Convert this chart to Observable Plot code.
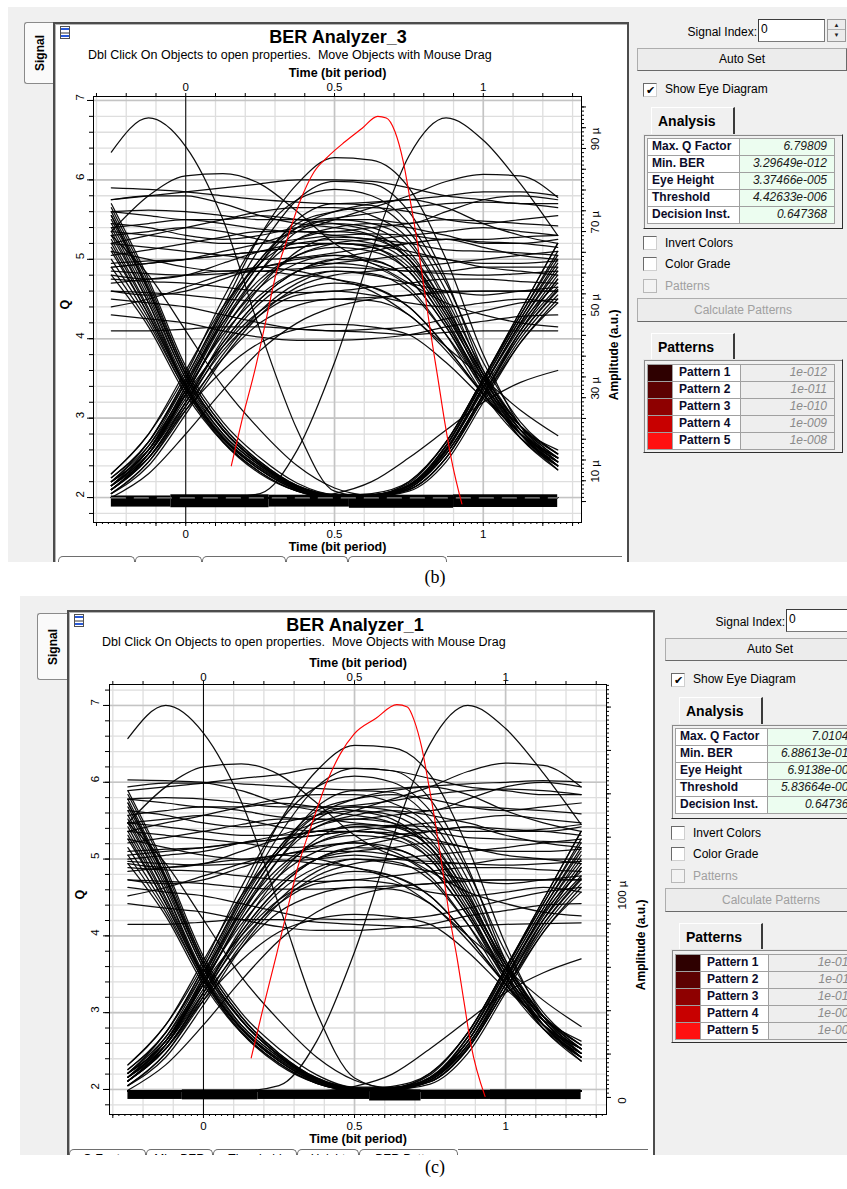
<!DOCTYPE html>
<html><head><meta charset="utf-8">
<script src="https://cdn.jsdelivr.net/npm/d3@7"></script>
<script src="https://cdn.jsdelivr.net/npm/@observablehq/plot@0.6"></script>
<style>
*{box-sizing:border-box}
body{margin:0;background:#fff}
#page{position:relative;width:847px;height:1189px;overflow:hidden;font-family:"Liberation Sans",Arial,sans-serif;color:#000}
.a{position:absolute;white-space:nowrap}
.screen{background:#f0f0f0}
.win{background:#fff;border:2px solid #4c4c4c;border-bottom:none;box-shadow:inset 1px 1px 0 #b4b4b4}
.sigtab{background:#fafafa;border:1px solid #8a8a8a;border-right:none;border-radius:3px 0 0 3px}
.sigtab span{position:absolute;left:50%;top:50%;transform:translate(-50%,-50%) rotate(-90deg);font-weight:bold;font-size:12px}
.icon{border:1px solid #505050;background:linear-gradient(#fff 0 1px,#2a5ad8 1px 3px,#fff 3px 5px,#9a9a9a 5px 7px,#fff 7px 8px,#2a5ad8 8px 10px,#fff 10px)}
.title{font-weight:bold;font-size:18px;line-height:22px;text-align:center}
.sub{font-size:12.5px;line-height:14px;white-space:pre}
.lbl{font-size:12px;line-height:14px}
.dis{color:#a0a0a0}
.inp{background:#fff;border:1px solid #7a7a7a;border-top-color:#3c3c3c;border-left-color:#3c3c3c;font-size:12px;line-height:19px;padding-left:2px}
.spin{border:1px solid #9a9a9a;background:#ececec;font-size:6px;line-height:10px;text-align:center;color:#222}
.spin div{height:10px;border-bottom:1px solid #b0b0b0}
.btn{background:#ececec;border:1px solid #adadad;border-right-color:#6a6a6a;border-bottom-color:#6a6a6a;font-size:12px;text-align:center}
.cb{background:#fff;border:1px solid #6a6a6a;border-right-color:#cfcfcf;border-bottom-color:#cfcfcf;font-size:11px;line-height:12px;text-align:center}
.cb.dis{background:#f3f3f3;border-color:#b8b8b8}
.tab{background:#f0f0f0;border-top:1px solid #fff;border-left:1px solid #fff;border-right:2px solid #3a3a3a;font-weight:bold;font-size:14px;line-height:26px;padding-left:6px}
.box{background:#f0f0f0;border:1px solid;border-color:#e8e8e8 #2e2e2e #2e2e2e #e8e8e8;box-shadow:inset 1px 1px 0 #8a8a8a}
.c1{background:#fff;border:1px solid #a0a0a0;font-weight:bold;font-size:12px;line-height:15px;padding-left:4px;color:#0c0c2a}
.c2{background:#ecfdf0;border:1px solid #a0a0a0;font-style:italic;font-size:12px;line-height:15px;text-align:right;padding-right:7px;color:#1a1a1a}
.c3{background:#eeeeee;border:1px solid #a0a0a0;font-style:italic;font-size:12px;line-height:15px;text-align:right;padding-right:7px;color:#8a8a8a}
.sw{border:1px solid #a0a0a0}
.clip{overflow:hidden}
.btab{position:absolute;top:0;height:22px;border:1px solid #6e6e6e;border-bottom:none;border-radius:5px 5px 0 0;font-size:12px;line-height:12px;text-align:center;padding-top:3px;background:#fff}
.btab.sel{font-weight:bold}
.bline{position:absolute;top:0;height:1px;background:#6e6e6e}
.cap{font-family:"Liberation Serif","DejaVu Serif",serif;font-size:18px;line-height:18px;text-align:center}
</style>
</head><body><div id="page"></div>
<script>
// ---------------- data ----------------
// sample instants (bit periods) at which every eye trace was read
const T = [-0.25,-0.125,0,0.125,0.25,0.375,0.5,0.625,0.75,0.875,1,1.125,1.25];
const xTickLabels = [0, 0.5, 1];
const qTickLabels = [2, 3, 4, 5, 6, 7];
const ampLabelsB = [10, 30, 50, 70, 90];
const ampLabelsC = [0, 100];

// Panel (b) eye traces, values read against the Q axis
const b_LHL = [
[2.2,2.7,3.5,4.4,5.3,5.95,6.28,6.25,5.9,5.0,3.8,2.9,2.5],
[2.15,2.65,3.45,4.35,5.15,5.75,5.98,5.95,5.6,4.75,3.6,2.85,2.45],
[2.1,2.55,3.35,4.25,4.95,5.5,5.7,5.68,5.35,4.6,3.55,2.8,2.4],
[2.2,2.6,3.3,4.15,4.85,5.35,5.5,5.45,5.2,4.45,3.5,2.85,2.5],
[2.1,2.5,3.2,4.0,4.65,5.1,5.28,5.25,5.0,4.35,3.45,2.8,2.4],
[2.25,2.7,3.45,4.2,4.75,5.05,5.15,5.1,4.85,4.2,3.4,2.75,2.35],
[2.15,2.55,3.25,3.95,4.5,4.85,5.0,4.98,4.75,4.15,3.35,2.8,2.5],
[2.05,2.45,3.1,3.8,4.35,4.7,4.85,4.82,4.6,4.05,3.4,2.9,2.55],
[2.2,2.6,3.3,3.9,4.35,4.6,4.7,4.65,4.4,3.9,3.3,2.8,2.45],
[2.1,2.5,3.15,3.75,4.2,4.42,4.5,4.48,4.3,3.85,3.3,2.8,2.4],
[2.15,2.5,3.1,3.6,3.95,4.12,4.18,4.15,4.05,3.7,3.25,2.85,2.6],
[2.3,2.8,3.55,4.5,5.3,5.75,5.88,5.8,5.45,4.7,3.7,2.95,2.55],
[2.3,2.8,3.6,4.4,4.95,5.25,5.35,5.3,5.05,4.4,3.55,2.9,2.5]
];
const b_LHH = [
[2.15,2.6,3.4,4.3,5.0,5.45,5.6,5.65,5.6,5.5,5.45,5.5,5.55],
[2.1,2.55,3.3,4.1,4.7,5.05,5.2,5.25,5.3,5.35,5.4,5.35,5.3],
[2.2,2.65,3.35,4.05,4.55,4.85,4.95,5.0,5.05,5.0,4.9,4.85,4.8],
[2.05,2.45,3.15,3.9,4.45,4.75,4.85,4.8,4.7,4.6,4.55,4.6,4.65],
[2.25,2.7,3.5,4.35,5.0,5.4,5.5,5.5,5.45,5.6,5.75,5.8,5.75],
[2.1,2.5,3.2,3.95,4.5,4.85,5.0,5.1,5.2,5.25,5.15,5.05,5.0],
[2.15,2.55,3.2,3.85,4.3,4.55,4.6,4.55,4.45,4.4,4.45,4.5,4.45],
[2.2,2.6,3.35,4.2,4.85,5.25,5.4,5.45,5.4,5.3,5.2,5.2,5.25],
[2.1,2.55,3.3,4.1,4.65,4.95,5.05,4.95,4.7,4.45,4.3,4.2,4.15],
[2.15,2.6,3.4,4.25,4.95,5.4,5.6,5.7,5.75,5.65,5.45,5.3,5.2],
[2.05,2.4,3.05,3.75,4.3,4.65,4.8,4.85,4.9,4.95,5.0,5.05,5.1],
[2.0,2.3,2.8,3.35,3.85,4.2,4.4,4.5,4.55,4.6,4.6,4.6,4.6]
];
const b_HHL = [
[5.6,5.55,5.5,5.5,5.55,5.5,5.45,5.35,5.0,4.3,3.5,2.85,2.4],
[5.3,5.35,5.4,5.35,5.25,5.2,5.2,5.15,4.85,4.2,3.45,2.8,2.35],
[4.9,4.95,5.0,5.05,5.1,5.15,5.2,5.15,4.9,4.25,3.4,2.75,2.4],
[5.75,5.8,5.8,5.7,5.55,5.45,5.4,5.3,5.0,4.35,3.55,2.9,2.5],
[4.6,4.55,4.6,4.75,4.9,4.95,4.95,4.9,4.65,4.05,3.3,2.75,2.45],
[5.1,5.0,4.9,4.85,4.9,5.0,5.05,5.0,4.75,4.15,3.4,2.8,2.4],
[4.4,4.5,4.65,4.8,4.9,4.85,4.75,4.65,4.4,3.9,3.3,2.8,2.5],
[5.45,5.4,5.3,5.25,5.3,5.4,5.45,5.4,5.1,4.4,3.55,2.9,2.55],
[4.8,4.75,4.8,4.95,5.1,5.2,5.25,5.2,4.95,4.3,3.5,2.85,2.45],
[5.2,5.3,5.4,5.5,5.6,5.65,5.65,5.55,5.25,4.5,3.6,2.9,2.45],
[4.7,4.75,4.8,4.85,4.85,4.8,4.75,4.6,4.3,3.9,3.5,3.1,2.78]
];
const b_HHH = [
[5.9,5.88,5.85,5.8,5.75,5.72,5.7,5.72,5.75,5.8,5.85,5.85,5.8],
[5.75,5.8,5.85,5.9,5.95,6.0,6.0,5.98,5.9,5.8,5.75,5.7,5.7],
[5.6,5.62,5.6,5.55,5.5,5.5,5.52,5.58,5.65,5.7,5.72,5.7,5.65],
[5.4,5.45,5.5,5.45,5.38,5.35,5.35,5.4,5.45,5.5,5.48,5.45,5.42],
[5.35,5.3,5.25,5.2,5.2,5.25,5.3,5.32,5.3,5.25,5.25,5.28,5.3],
[5.2,5.15,5.1,5.05,5.0,5.02,5.08,5.15,5.2,5.25,5.22,5.2,5.15],
[4.95,4.98,5.0,5.05,5.1,5.15,5.2,5.18,5.1,5.0,4.95,4.95,4.98],
[4.85,4.82,4.8,4.82,4.85,4.88,4.9,4.88,4.85,4.82,4.8,4.82,4.85],
[4.75,4.72,4.7,4.65,4.6,4.58,4.6,4.65,4.7,4.75,4.75,4.72,4.7],
[4.6,4.58,4.55,4.5,4.48,4.48,4.5,4.52,4.55,4.58,4.6,4.6,4.6],
[4.1,4.1,4.12,4.15,4.15,4.12,4.1,4.08,4.05,4.08,4.1,4.1,4.1],
[4.3,4.25,4.2,4.1,4.02,3.98,3.98,4.0,4.05,4.15,4.22,4.28,4.3],
[5.05,5.12,5.2,5.28,5.35,5.35,5.3,5.25,5.2,5.12,5.1,5.08,5.05],
[4.5,4.45,4.4,4.3,4.2,4.12,4.1,4.12,4.15,4.25,4.35,4.45,4.5]
];
const b_peaks = [
[5.35,5.8,6.05,6.08,5.95,5.6,5.2,4.95,4.85,4.85,4.9,4.9,4.9],
[4.9,4.95,5.0,5.1,5.2,5.35,5.5,5.65,5.8,5.98,6.07,6.05,5.78],
[6.35,6.78,6.42,5.5,4.1,2.85,2.08,2.0,2.0,2.0,2.0,2.0,2.0],
[2.0,2.0,2.0,2.0,2.05,2.6,3.7,5.1,6.3,6.78,6.5,5.95,5.3]
];
const b_HLH = [
[5.4,4.5,3.5,2.8,2.4,2.12,2.02,2.02,2.12,2.6,3.4,4.15,4.8],
[5.6,4.65,3.6,2.9,2.45,2.15,2.03,2.03,2.15,2.65,3.45,4.25,4.95],
[5.2,4.35,3.4,2.75,2.35,2.1,2.0,2.02,2.1,2.5,3.3,4.05,4.6],
[5.0,4.25,3.35,2.7,2.3,2.08,2.0,2.0,2.12,2.55,3.3,4.1,4.75],
[5.55,4.6,3.55,2.85,2.42,2.14,2.02,2.03,2.2,2.7,3.5,4.3,5.05],
[5.3,4.45,3.45,2.8,2.4,2.12,2.01,2.02,2.15,2.6,3.35,4.1,4.65],
[4.8,4.15,3.3,2.7,2.32,2.08,2.0,2.01,2.1,2.5,3.25,3.95,4.5],
[5.7,4.75,3.65,2.95,2.5,2.18,2.04,2.04,2.18,2.7,3.5,4.35,5.2],
[5.35,4.45,3.4,2.75,2.38,2.11,2.01,2.02,2.14,2.58,3.38,4.2,4.85],
[5.5,4.6,3.55,2.85,2.43,2.14,2.02,2.02,2.16,2.62,3.4,4.18,4.7],
[5.1,4.3,3.38,2.74,2.35,2.09,2.0,2.01,2.12,2.55,3.28,4.05,4.62]
];
const b_HLL = [
[5.45,4.55,3.5,2.85,2.42,2.13,2.02,2.0,2.0,2.0,2.0,2.0,2.0],
[5.15,4.3,3.4,2.75,2.35,2.1,2.0,2.0,2.0,2.0,2.0,2.0,2.0],
[5.65,4.7,3.6,2.9,2.45,2.15,2.03,2.0,2.0,2.0,2.0,2.0,2.0],
[4.9,4.2,3.35,2.72,2.32,2.08,2.0,2.0,2.0,2.0,2.0,2.0,2.0],
[5.3,4.8,4.1,3.4,2.85,2.4,2.12,2.02,2.0,2.0,2.0,2.0,2.0],
[5.55,4.62,3.55,2.86,2.43,2.14,2.02,2.0,2.0,2.0,2.0,2.0,2.0],
[5.25,4.38,3.42,2.77,2.37,2.11,2.01,2.0,2.0,2.0,2.0,2.0,2.0]
];
const b_LLH = [
[2.0,2.0,2.0,2.0,2.0,2.0,2.0,2.02,2.12,2.55,3.3,4.1,4.75],
[2.0,2.0,2.0,2.0,2.0,2.0,2.0,2.03,2.15,2.65,3.45,4.25,5.0],
[2.0,2.0,2.0,2.0,2.0,2.0,2.0,2.02,2.1,2.5,3.25,4.0,4.55],
[2.0,2.0,2.0,2.0,2.0,2.0,2.02,2.05,2.2,2.7,3.5,4.35,5.2],
[2.0,2.0,2.0,2.0,2.0,2.0,2.05,2.2,2.5,2.85,3.2,3.45,3.6],
[2.0,2.0,2.0,2.0,2.0,2.0,2.0,2.01,2.08,2.45,3.2,3.95,4.45],
[2.0,2.0,2.0,2.0,2.0,2.0,2.0,2.02,2.14,2.6,3.4,4.2,4.9],
[2.0,2.0,2.0,2.0,2.0,2.0,2.01,2.03,2.16,2.66,3.48,4.3,5.1]
];
// zero-level band: start/end instants, lower and upper Q edge of each stretch
const bandB_t0 = [-0.25, -0.05, 0.28, 0.55, 0.9];
const bandB_t1 = [-0.05, 0.28, 0.55, 0.9, 1.25];
const bandB_lo = [1.88, 1.872, 1.88, 1.865, 1.875];
const bandB_hi = [2.02, 2.035, 2.03, 2.03, 2.035];
const bandB_dash = 1.995;
const redB_t = [0.153,0.188,0.234,0.269,0.303,0.338,0.384,0.431,0.477,0.535,0.593,0.645,0.674,0.703,0.731,0.755,0.778,0.801,0.824,0.847,0.870,0.894,0.928];
const redB_q = [2.40,2.96,3.63,4.22,4.81,5.22,5.73,6.10,6.29,6.48,6.65,6.80,6.78,6.61,6.23,5.73,5.22,4.64,4.05,3.51,2.96,2.46,1.92];

// Panel (c) eye traces, values read against the Q axis
const c_LHL = [
[2.21,2.74,3.58,4.52,5.47,6.15,6.48,6.45,6.1,5.15,3.89,2.95,2.53],
[2.16,2.68,3.52,4.47,5.31,5.94,6.18,6.15,5.78,4.89,3.68,2.9,2.47],
[2.11,2.58,3.42,4.36,5.1,5.68,5.89,5.87,5.52,4.73,3.63,2.84,2.42],
[2.21,2.63,3.37,4.26,5.0,5.52,5.68,5.63,5.36,4.57,3.58,2.9,2.53],
[2.11,2.53,3.26,4.1,4.78,5.26,5.45,5.42,5.15,4.47,3.52,2.84,2.42],
[2.26,2.74,3.52,4.31,4.89,5.21,5.31,5.26,5.0,4.31,3.47,2.79,2.37],
[2.16,2.58,3.31,4.05,4.63,5.0,5.15,5.13,4.89,4.26,3.42,2.84,2.53],
[2.05,2.47,3.16,3.89,4.47,4.84,5.0,4.97,4.73,4.15,3.47,2.95,2.58],
[2.21,2.63,3.37,4.0,4.47,4.73,4.84,4.78,4.52,4.0,3.37,2.84,2.47],
[2.11,2.53,3.21,3.84,4.31,4.54,4.63,4.61,4.42,3.94,3.37,2.84,2.42],
[2.16,2.53,3.16,3.68,4.05,4.22,4.28,4.25,4.15,3.79,3.31,2.9,2.63],
[2.32,2.84,3.63,4.63,5.47,5.94,6.08,6.0,5.63,4.84,3.79,3.0,2.58],
[2.32,2.84,3.68,4.52,5.1,5.42,5.52,5.47,5.21,4.52,3.63,2.95,2.53]
];
const c_LHH = [
[2.16,2.63,3.47,4.42,5.15,5.63,5.78,5.84,5.78,5.68,5.63,5.68,5.73],
[2.11,2.58,3.37,4.21,4.84,5.21,5.36,5.42,5.47,5.52,5.57,5.52,5.47],
[2.21,2.68,3.42,4.15,4.68,5.0,5.1,5.15,5.21,5.15,5.05,5.0,4.94],
[2.05,2.47,3.21,4.0,4.57,4.89,5.0,4.94,4.84,4.73,4.68,4.73,4.78],
[2.26,2.74,3.58,4.47,5.15,5.57,5.68,5.68,5.63,5.78,5.94,6.0,5.94],
[2.11,2.53,3.26,4.05,4.63,5.0,5.15,5.26,5.36,5.42,5.31,5.21,5.15],
[2.16,2.58,3.26,3.94,4.42,4.68,4.73,4.68,4.57,4.52,4.57,4.63,4.57],
[2.21,2.63,3.42,4.31,5.0,5.42,5.57,5.63,5.57,5.47,5.36,5.36,5.42],
[2.11,2.58,3.37,4.21,4.78,5.1,5.21,5.1,4.84,4.57,4.42,4.31,4.26],
[2.16,2.63,3.47,4.36,5.1,5.57,5.78,5.89,5.94,5.84,5.63,5.47,5.36],
[2.05,2.42,3.1,3.84,4.42,4.78,4.94,5.0,5.05,5.1,5.15,5.21,5.26],
[1.99,2.32,2.84,3.42,3.94,4.31,4.52,4.63,4.68,4.73,4.73,4.73,4.73]
];
const c_HHL = [
[5.78,5.73,5.68,5.68,5.73,5.68,5.63,5.52,5.15,4.42,3.58,2.9,2.42],
[5.47,5.52,5.57,5.52,5.42,5.36,5.36,5.31,5.0,4.31,3.52,2.84,2.37],
[5.05,5.1,5.15,5.21,5.26,5.31,5.36,5.31,5.05,4.36,3.47,2.79,2.42],
[5.94,5.99,5.99,5.89,5.73,5.63,5.57,5.47,5.15,4.47,3.63,2.95,2.53],
[4.73,4.68,4.73,4.89,5.05,5.1,5.1,5.05,4.78,4.15,3.37,2.79,2.47],
[5.26,5.15,5.05,5.0,5.05,5.15,5.21,5.15,4.89,4.26,3.47,2.84,2.42],
[4.52,4.63,4.78,4.94,5.05,5.0,4.89,4.78,4.52,4.0,3.37,2.84,2.53],
[5.63,5.57,5.47,5.42,5.47,5.57,5.63,5.57,5.26,4.52,3.63,2.95,2.58],
[4.94,4.89,4.94,5.1,5.26,5.36,5.42,5.36,5.1,4.42,3.58,2.9,2.47],
[5.36,5.47,5.57,5.68,5.78,5.84,5.84,5.73,5.42,4.63,3.68,2.95,2.47],
[4.84,4.89,4.94,4.99,4.99,4.94,4.89,4.73,4.42,4.0,3.58,3.16,2.82]
];
const c_HHH = [
[6.03,6.02,6.0,5.98,5.95,5.92,5.9,5.92,5.95,5.98,6.0,6.02,6.0],
[5.89,5.94,5.99,6.05,6.1,6.18,6.18,6.15,6.05,5.94,5.89,5.84,5.84],
[5.78,5.8,5.78,5.73,5.68,5.68,5.7,5.76,5.84,5.89,5.91,5.89,5.84],
[5.57,5.63,5.68,5.63,5.55,5.52,5.52,5.57,5.63,5.68,5.66,5.63,5.59],
[5.47,5.42,5.36,5.31,5.31,5.36,5.42,5.44,5.42,5.36,5.36,5.39,5.45],
[5.36,5.31,5.26,5.21,5.15,5.17,5.23,5.31,5.36,5.42,5.39,5.36,5.31],
[5.1,5.13,5.15,5.21,5.26,5.31,5.36,5.34,5.26,5.15,5.1,5.1,5.13],
[4.97,4.94,4.92,4.94,4.97,5.0,5.05,5.0,4.97,4.94,4.92,4.94,4.97],
[4.89,4.86,4.84,4.78,4.73,4.71,4.73,4.78,4.84,4.89,4.89,4.86,4.84],
[4.73,4.71,4.68,4.63,4.61,4.61,4.63,4.65,4.68,4.71,4.73,4.73,4.73],
[4.15,4.15,4.18,4.21,4.21,4.18,4.15,4.13,4.1,4.13,4.15,4.16,4.17],
[4.42,4.36,4.31,4.21,4.12,4.07,4.07,4.1,4.15,4.26,4.33,4.4,4.42],
[5.21,5.28,5.36,5.45,5.52,5.52,5.47,5.42,5.36,5.28,5.26,5.23,5.21],
[4.63,4.57,4.52,4.42,4.31,4.22,4.21,4.22,4.26,4.36,4.47,4.57,4.63]
];
const c_peaks = [
[5.47,5.94,6.2,6.24,6.1,5.73,5.31,5.05,4.94,4.94,5.0,5.0,5.0],
[5.0,5.05,5.1,5.21,5.31,5.47,5.63,5.78,5.94,6.14,6.25,6.22,5.94],
[6.57,7.0,6.64,5.75,4.4,3.0,2.15,2.0,1.98,1.98,1.98,1.98,1.98],
[1.98,1.98,1.98,1.98,2.05,2.63,3.79,5.26,6.5,7.0,6.7,6.12,5.45]
];
const c_HLH = [
[5.57,4.63,3.58,2.84,2.42,2.12,2.01,2.01,2.12,2.63,3.47,4.26,4.94],
[5.78,4.78,3.68,2.95,2.47,2.15,2.02,2.02,2.15,2.68,3.52,4.36,5.1],
[5.36,4.47,3.47,2.79,2.37,2.1,1.99,2.01,2.1,2.53,3.37,4.15,4.73],
[5.15,4.36,3.42,2.74,2.32,2.08,1.99,1.99,2.12,2.58,3.37,4.21,4.89],
[5.73,4.73,3.63,2.9,2.44,2.14,2.01,2.02,2.21,2.74,3.58,4.42,5.21],
[5.47,4.57,3.52,2.84,2.42,2.12,2.0,2.01,2.15,2.63,3.42,4.21,4.78],
[4.94,4.26,3.37,2.74,2.34,2.08,1.99,2.0,2.1,2.53,3.31,4.05,4.63],
[5.89,4.89,3.73,3.0,2.53,2.19,2.03,2.03,2.19,2.74,3.58,4.47,5.36],
[5.52,4.57,3.47,2.79,2.4,2.11,2.0,2.01,2.14,2.58,3.42,4.31,4.99],
[5.68,4.73,3.63,2.9,2.45,2.14,2.01,2.01,2.16,2.63,3.45,4.29,4.84],
[5.26,4.42,3.45,2.79,2.37,2.09,1.99,2.0,2.12,2.55,3.31,4.15,4.75]
];
const c_HLL = [
[5.63,4.68,3.58,2.9,2.44,2.13,2.01,1.99,1.98,1.98,1.98,1.98,1.98],
[5.31,4.42,3.47,2.79,2.37,2.1,1.99,1.98,1.98,1.98,1.98,1.98,1.98],
[5.84,4.84,3.68,2.95,2.47,2.15,2.02,1.99,1.98,1.98,1.98,1.98,1.98],
[5.05,4.31,3.42,2.76,2.34,2.08,1.99,1.98,1.98,1.98,1.98,1.98,1.98],
[5.47,4.94,4.21,3.47,2.9,2.42,2.12,2.01,1.98,1.98,1.98,1.98,1.98],
[5.73,4.76,3.63,2.91,2.45,2.14,2.01,1.99,1.98,1.98,1.98,1.98,1.98],
[5.42,4.5,3.5,2.81,2.39,2.11,2.0,1.98,1.98,1.98,1.98,1.98,1.98]
];
const c_LLH = [
[1.98,1.98,1.98,1.98,1.98,1.98,1.99,2.01,2.12,2.58,3.37,4.21,4.89],
[1.98,1.98,1.98,1.98,1.98,1.98,1.99,2.02,2.15,2.68,3.52,4.36,5.15],
[1.98,1.98,1.98,1.98,1.98,1.98,1.99,2.01,2.1,2.53,3.31,4.1,4.68],
[1.98,1.98,1.98,1.98,1.98,1.98,2.0,2.04,2.21,2.74,3.58,4.47,5.36],
[1.98,1.98,1.98,1.98,1.98,1.98,2.04,2.2,2.53,2.9,3.26,3.52,3.7],
[1.98,1.98,1.98,1.98,1.98,1.98,1.99,2.0,2.07,2.47,3.26,4.05,4.57],
[1.98,1.98,1.98,1.98,1.98,1.98,1.99,2.01,2.14,2.63,3.47,4.31,5.05],
[1.98,1.98,1.98,1.98,1.98,1.98,2.0,2.02,2.16,2.69,3.56,4.42,5.26]
];
const bandC_t0 = [-0.25, -0.07, 0.18, 0.55, 0.72, 0.95];
const bandC_t1 = [-0.07, 0.18, 0.55, 0.72, 0.95, 1.25];
const bandC_lo = [1.87, 1.865, 1.87, 1.85, 1.87, 1.868];
const bandC_hi = [1.985, 1.995, 1.99, 1.995, 1.99, 1.995];
const redC_t = [0.158,0.195,0.242,0.277,0.312,0.359,0.406,0.453,0.499,0.570,0.640,0.675,0.698,0.722,0.745,0.768,0.792,0.815,0.839,0.862,0.885,0.932];
const redC_q = [2.41,3.02,3.76,4.33,4.89,5.46,5.98,6.37,6.63,6.83,7.01,6.98,6.80,6.46,5.98,5.46,4.85,4.24,3.72,3.15,2.59,1.91];

// side panel texts
const analysisLabels = ["Max. Q Factor","Min. BER","Eye Height","Threshold","Decision Inst."];
const analysisB = ["6.79809","3.29649e-012","3.37466e-005","4.42633e-006","0.647368"];
const analysisC = ["7.01043","6.88613e-013","6.9138e-005","5.83664e-006","0.647368"];
const patternNames = ["Pattern 1","Pattern 2","Pattern 3","Pattern 4","Pattern 5"];
const patternValues = ["1e-012","1e-011","1e-010","1e-009","1e-008"];
const patternColors = ["#2e0000","#5c0000","#8e0000","#c80000","#ff1010"];
const bottomTabNames = ["Q Factor","Min. BER","Threshold","Height","BER Pattern"];
const SUBTITLE = "Dbl Click On Objects to open properties.  Move Objects with Mouse Drag";

// ---------------- layout helpers ----------------
const page = document.getElementById('page');
function el(cls, x, y, w, h, html = '', style = '') {
  const d = document.createElement('div');
  d.className = 'a ' + cls;
  d.style.cssText = `left:${x}px;top:${y}px;` + (w != null ? `width:${w}px;` : '') + (h != null ? `height:${h}px;` : '') + style;
  d.innerHTML = html;
  page.appendChild(d);
  return d;
}

function eyePlot(P) {
  const toQ = a => P.ampZeroQ + P.ampStepQ * a;
  const rows = [];
  P.groups.forEach(g => g.forEach(tr => {
    const id = rows.length;
    tr.forEach((q, i) => rows.push({id, t: T[i], q}));
  }));
  const band = P.bandT0.map((t0, i) => ({t0, t1: P.bandT1[i], lo: P.bandLo[i], hi: P.bandHi[i]}));
  const red = P.redT.map((t, i) => ({t, q: P.redQ[i]}));
  const minorX = d3.range(-30, 131, 10).map(v => v / 100);
  const tinyX = d3.range(-30, 133, 2).map(v => v / 100);
  const minorY = d3.range(Math.ceil(P.yDomain[0] * 5), Math.floor(P.yDomain[1] * 5) + 1).map(v => v / 5);
  const majorY = qTickLabels;
  const ampMinor = d3.range(0, P.ampMax + 1, P.ampMinorStep).map(toQ);
  const ampTiny = d3.range(0, P.ampMax + 1, P.ampTinyStep).map(toQ);
  const noLab = () => "";
  const marks = [
    Plot.gridX({ticks: minorX, stroke: "#dedede", strokeOpacity: 1, strokeWidth: 1.3}),
    Plot.gridY({ticks: minorY, stroke: "#dedede", strokeOpacity: 1, strokeWidth: 1.3}),
    Plot.gridX({ticks: [0.5, 1], stroke: "#c4c4c4", strokeOpacity: 1, strokeWidth: 1.6}),
    Plot.gridY({ticks: majorY, stroke: "#c4c4c4", strokeOpacity: 1, strokeWidth: 1.6}),
    Plot.ruleX([0], {stroke: "#000", strokeWidth: 1}),
    Plot.rect(band, {x1: "t0", x2: "t1", y1: "lo", y2: "hi", fill: "#000", inset: 0}),
    Plot.line(rows, {x: "t", y: "q", z: "id", curve: "monotone-x", stroke: "#000", strokeWidth: 1.25, strokeOpacity: 0.95}),
  ];
  if (P.dash) marks.push(Plot.line([{t: T[0], q: P.dash}, {t: T[T.length - 1], q: P.dash}], {x: "t", y: "q", stroke: "#8c8c8c", strokeWidth: 1.3, strokeDasharray: "14,9"}));
  marks.push(
    Plot.line(red, {x: "t", y: "q", curve: "monotone-x", stroke: "#ff0000", strokeWidth: 1.15}),
    Plot.frame({stroke: "#000"}),
    Plot.axisX({anchor: "bottom", ticks: minorX, tickSize: 4, tickFormat: noLab, label: null}),
    Plot.axisX({anchor: "bottom", ticks: tinyX, tickSize: 2, tickFormat: noLab, label: null}),
    Plot.axisX({anchor: "top", ticks: minorX, tickSize: 4, tickFormat: noLab, label: null}),
    Plot.axisY({anchor: "left", ticks: minorY, tickSize: 4, tickFormat: noLab, label: null}),
    Plot.axisY({anchor: "left", ticks: majorY, tickSize: 6, tickFormat: noLab, label: null}),
    Plot.axisY({anchor: "right", ticks: ampMinor, tickSize: 4, tickFormat: noLab, label: null}),
    Plot.axisY({anchor: "right", ticks: ampTiny, tickSize: 2, tickFormat: noLab, label: null}),
    Plot.text(xTickLabels, {x: d => d, text: d => String(d), frameAnchor: "top", dy: P.topTickDy, fontSize: 11.5}),
    Plot.text(xTickLabels, {x: d => d, text: d => String(d), frameAnchor: "bottom", dy: 15, fontSize: 11.5}),
    Plot.text(["Time (bit period)"], {text: d => d, frameAnchor: "top", dy: P.topTickDy - 14, fontSize: 12.5, fontWeight: "bold"}),
    Plot.text(["Time (bit period)"], {text: d => d, frameAnchor: "bottom", dy: 28, fontSize: 12.5, fontWeight: "bold"}),
    Plot.text(qTickLabels, {y: d => d, text: d => String(d), frameAnchor: "left", dx: P.qDx, rotate: -90, fontSize: 11.5}),
    Plot.text(["Q"], {text: d => d, frameAnchor: "left", dx: P.qDx - 16, rotate: -90, fontSize: 12.5, fontWeight: "bold"}),
    Plot.text(P.ampLabels, {y: a => toQ(a), text: a => a === 0 ? "0" : a + " µ", frameAnchor: "right", dx: P.ampDx, rotate: -90, fontSize: 11.5}),
    Plot.text(["Amplitude (a.u.)"], {text: d => d, frameAnchor: "right", dx: P.ampDx + 19, rotate: -90, fontSize: 12, fontWeight: "bold"})
  );
  return Plot.plot({
    width: P.svg[2], height: P.svg[3],
    marginLeft: P.m[3], marginRight: P.m[1], marginTop: P.m[0], marginBottom: P.m[2],
    x: {domain: P.xDomain}, y: {domain: P.yDomain},
    style: {background: "transparent", overflow: "visible", fontFamily: "Liberation Sans, Arial, sans-serif", fontSize: "11px", color: "#000"},
    marks
  });
}

function controls(dx, dy, vals) {
  const X = x => x + dx, Y = y => y + dy;
  el('lbl', X(600), Y(25), 157, 14, 'Signal Index:', 'text-align:right');
  el('inp', X(758), Y(19), 67, 23, '0');
  el('spin', X(827), Y(19), 19, 23, '<div>▲</div><div style="border:none">▼</div>');
  el('btn', X(637), Y(48), 210, 23, 'Auto Set', 'line-height:21px');
  el('cb', X(643), Y(83), 14, 14, '✔');
  el('lbl', X(665), Y(82), null, 14, 'Show Eye Diagram');
  el('tab', X(651), Y(107), 84, 27, 'Analysis');
  el('box', X(643), Y(134), 200, 95);
  analysisLabels.forEach((s, i) => {
    el('c1', X(647), Y(138 + 17 * i), 93, 18, s);
    el('c2', X(739), Y(138 + 17 * i), 96, 18, vals[i]);
  });
  el('cb', X(643), Y(236), 14, 14);
  el('lbl', X(665), Y(236), null, 14, 'Invert Colors');
  el('cb', X(643), Y(257), 14, 14);
  el('lbl', X(665), Y(257), null, 14, 'Color Grade');
  el('cb dis', X(643), Y(279), 14, 14);
  el('lbl dis', X(665), Y(279), null, 14, 'Patterns');
  el('btn dis', X(637), Y(298), 212, 24, 'Calculate Patterns', 'line-height:22px');
  el('tab', X(651), Y(333), 84, 27, 'Patterns');
  el('box', X(643), Y(359), 200, 94);
  patternNames.forEach((s, i) => {
    const y = 364 + 17 * i;
    el('sw', X(647), Y(y), 26, 18, '', `background:${patternColors[i]}`);
    el('c1', X(672), Y(y), 69, 18, s, 'padding-left:6px');
    el('c3', X(740), Y(y), 95, 18, patternValues[i]);
  });
}

function bottomTabs(x0, y0, right, visH, showText) {
  const widths = [77, 67, 84, 62, 99];
  let html = '', x = 0;
  bottomTabNames.forEach((n, i) => {
    html += `<div class="btab${i === 0 ? ' sel' : ''}" style="left:${x}px;width:${widths[i]}px">${showText ? n : ''}</div>`;
    x += widths[i];
  });
  html += `<div class="bline" style="left:${x}px;width:${right - x0 - x}px"></div>`;
  el('clip', x0, y0, right - x0, visH, html);
}

function buildPanel(P) {
  el('screen', ...P.screen);
  el('sigtab', ...P.sigTab, '<span>Signal</span>');
  el('win', ...P.win);
  el('icon', P.win[0] + 7, P.win[1] + 4, 10, 13);
  el('title', P.titleCx - 150, P.titleTop, 300, 22, P.title);
  el('sub', P.win[0] + 35, P.subTop, null, 14, SUBTITLE);
  bottomTabs(P.tabs[0], P.tabs[1], P.tabs[2], P.tabs[3], P.tabs[4]);
  const holder = el('', P.svg[0], P.svg[1], P.svg[2], P.svg[3]);
  holder.appendChild(eyePlot(P));
  controls(P.ctl[0], P.ctl[1], P.vals);
  el('cap', 400, P.capTop, 70, 18, P.cap);
}

buildPanel({
  screen: [8, 7, 839, 555], sigTab: [24, 22, 30, 62], win: [53, 22, 576, 540],
  title: "BER Analyzer_3", titleCx: 338, titleTop: 26, subTop: 48,
  tabs: [58, 556, 622, 6, false],
  svg: [55, 62, 580, 500], m: [34, 54, 40, 38],
  xDomain: [-0.31, 1.33], yDomain: [1.686, 7.05],
  groups: [b_LHL, b_LHH, b_HHL, b_HHH, b_peaks, b_HLH, b_HLL, b_LLH],
  bandT0: bandB_t0, bandT1: bandB_t1, bandLo: bandB_lo, bandHi: bandB_hi, dash: bandB_dash,
  redT: redB_t, redQ: redB_q,
  ampZeroQ: 1.95, ampStepQ: 0.0523, ampMax: 95, ampMinorStep: 5, ampTinyStep: 1, ampLabels: ampLabelsB,
  topTickDy: -14, qDx: -13, ampDx: 14,
  ctl: [0, 0], vals: analysisB, cap: "(b)", capTop: 568
});
buildPanel({
  screen: [20, 596, 827, 559], sigTab: [37, 613, 31, 67], win: [67, 610, 588, 545],
  title: "BER Analyzer_1", titleCx: 355, titleTop: 614, subTop: 635,
  tabs: [69, 1149, 648, 6, true],
  svg: [70, 650, 585, 505], m: [34, 49, 41, 39],
  xDomain: [-0.311, 1.334], yDomain: [1.674, 7.273],
  groups: [c_LHL, c_LHH, c_HHL, c_HHH, c_peaks, c_HLH, c_HLL, c_LLH],
  bandT0: bandC_t0, bandT1: bandC_t1, bandLo: bandC_lo, bandHi: bandC_hi, dash: null,
  redT: redC_t, redQ: redC_q,
  ampZeroQ: 1.896, ampStepQ: 0.02824, ampMax: 190, ampMinorStep: 20, ampTinyStep: 2, ampLabels: ampLabelsC,
  topTickDy: -12, qDx: -14, ampDx: 16,
  ctl: [28, 590], vals: analysisC, cap: "(c)", capTop: 1158
});
</script>
</body></html>
